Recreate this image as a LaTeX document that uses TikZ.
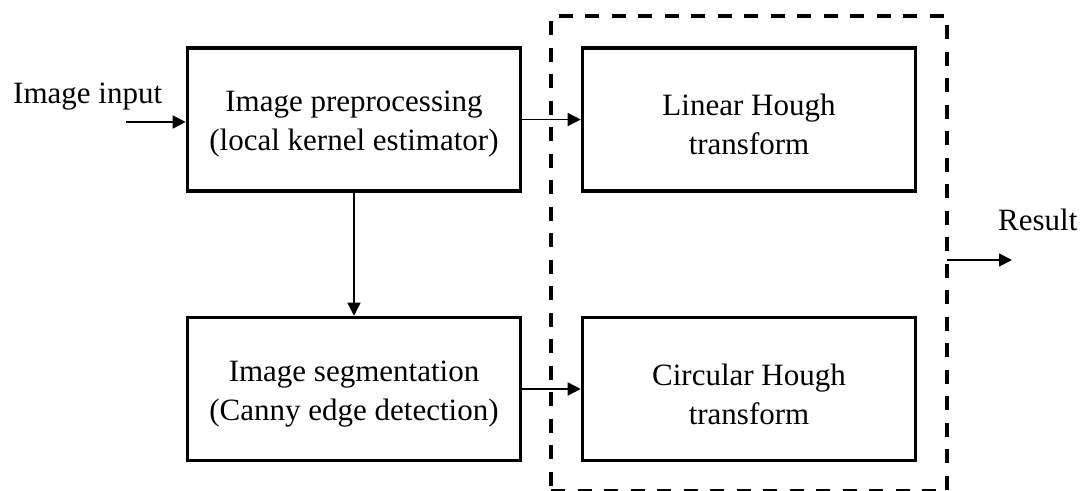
\documentclass[tikz,border=0pt]{standalone}
\usepackage{fontspec}
\setmainfont{Liberation Serif}
\usetikzlibrary{arrows.meta}
\begin{document}
\begin{tikzpicture}[x=1pt,y=-1pt,
  txt/.style={font=\fontsize{31}{39}\selectfont},
  blk/.style={draw, line width=3.6pt, minimum width=333pt, minimum height=143pt, inner sep=0pt},
  blktext/.style={txt, align=center, inner sep=0pt, yshift=-5pt},
  grpbox/.style={draw, line width=3.6pt, dash pattern=on 14pt off 12.5pt, minimum width=396pt, minimum height=475pt, outer sep=0pt, inner sep=0pt},
  conn/.style={line width=1.6pt, -{Triangle[length=13pt,width=13pt]}},
  lbl/.style={txt, inner sep=0pt, anchor=base west}]
\useasboundingbox (0,0) rectangle (1083,490);
\node[grpbox] (grp) at (749,253.5) {};
\node[blk, label={[blktext]center:{Image preprocessing\\(local kernel estimator)}}] (b1) at (354,119.5) {};
\node[blk, label={[blktext]center:{Linear Hough\\transform}}] (b2) at (749,119.5) {};
\node[blk, label={[blktext]center:{Image segmentation\\(Canny edge detection)}}] (b3) at (354,389) {};
\node[blk, label={[blktext]center:{Circular Hough\\transform}}] (b4) at (749,389) {};
\node[lbl] (inp) at (13,103) {Image input};
\node[lbl] (res) at (998,230) {Result};
\coordinate (inS) at (126,122);
\coordinate (resE) at (1012,260);
\draw[conn] (inS) -- (inS -| b1.west);
\draw[conn] (b1) -- (b2);
\draw[conn] (b3) -- (b4);
\draw[conn] (b1) -- (b3);
\draw[conn] (grp.east |- resE) -- (resE);
\end{tikzpicture}
\end{document}
